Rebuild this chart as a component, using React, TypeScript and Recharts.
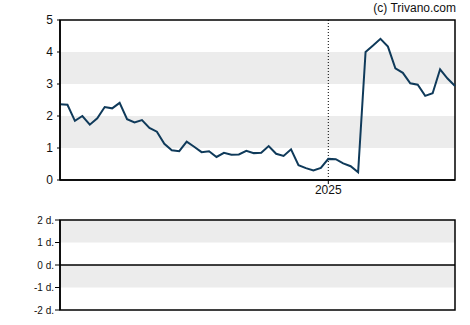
import React from "react";
import { LineChart, Line, XAxis, YAxis, ReferenceArea, ReferenceLine } from "recharts";

const dates = [
  "2024-04-26","2024-05-03","2024-05-10","2024-05-17","2024-05-24","2024-05-31",
  "2024-06-07","2024-06-14","2024-06-21","2024-06-28","2024-07-05","2024-07-12",
  "2024-07-19","2024-07-26","2024-08-02","2024-08-09","2024-08-16","2024-08-23",
  "2024-08-30","2024-09-06","2024-09-13","2024-09-20","2024-09-27","2024-10-04",
  "2024-10-11","2024-10-18","2024-10-25","2024-11-01","2024-11-08","2024-11-15",
  "2024-11-22","2024-11-29","2024-12-06","2024-12-13","2024-12-20","2024-12-27",
  "2025-01-03","2025-01-10","2025-01-17","2025-01-24","2025-01-31","2025-02-07",
  "2025-02-14","2025-02-21","2025-02-28","2025-03-07","2025-03-14","2025-03-21",
  "2025-03-28","2025-04-04","2025-04-11","2025-04-18","2025-04-25","2025-05-02",
];

const values = [
  2.37, 2.35, 1.85, 2.0, 1.73, 1.93, 2.28, 2.24, 2.41, 1.9, 1.8, 1.87,
  1.63, 1.51, 1.13, 0.93, 0.9, 1.2, 1.04, 0.87, 0.9, 0.72, 0.85, 0.79,
  0.8, 0.91, 0.84, 0.85, 1.06, 0.82, 0.75, 0.96, 0.46, 0.37, 0.3, 0.38,
  0.66, 0.65, 0.52, 0.43, 0.24, 4.0, 4.2, 4.41, 4.17, 3.49, 3.35, 3.02,
  2.98, 2.63, 2.71, 3.46, 3.17, 2.94,
];

const yearTick = "2025-01-03";
const yearLabel = "2025";
const priceTicks = [0, 1, 2, 3, 4, 5];
const lowerTicks = [-2, -1, 0, 1, 2];
const baseline = 0;
const copyright = "(c) Trivano.com";

const data = dates.map((d, i) => ({ date: d, value: values[i] }));
const lowerData = dates.map((d) => ({ date: d, base: baseline }));

const FONT = "Arial, 'Liberation Sans', sans-serif";
const BAND = "#ececec";

export default function App() {
  return (
    <div style={{ position: "absolute", left: 0, top: 0, width: 470, height: 325, background: "#fff", fontFamily: FONT }}>
      <div style={{ position: "absolute", left: 0, top: 0 }}>
        <LineChart width={470} height={200} data={data} margin={{ top: 20, right: 15, bottom: 0, left: 0 }}>
          <ReferenceArea y1={1} y2={2} fill={BAND} fillOpacity={1} stroke="none" ifOverflow="hidden" />
          <ReferenceArea y1={3} y2={4} fill={BAND} fillOpacity={1} stroke="none" ifOverflow="hidden" />
          <XAxis
            dataKey="date"
            ticks={[yearTick]}
            tickFormatter={() => yearLabel}
            interval={0}
            height={20}
            tickSize={4}
            tickMargin={1}
            axisLine={{ stroke: "#000", strokeWidth: 1.5 }}
            tickLine={{ stroke: "#000" }}
            tick={{ fill: "#111", fontSize: 12, fontFamily: FONT }}
          />
          <YAxis
            domain={[0, 5]}
            ticks={priceTicks}
            width={60}
            tickSize={3}
            tickMargin={4}
            axisLine={{ stroke: "#000", strokeWidth: 1.5 }}
            tickLine={{ stroke: "#000" }}
            tick={{ fill: "#111", fontSize: 12, fontFamily: FONT }}
            allowDataOverflow
          />
          <ReferenceLine x={yearTick} stroke="#000" strokeDasharray="1 2" strokeWidth={1} />
          <ReferenceArea y1={0} y2={5} fill="none" stroke="#000" strokeWidth={1.5} />
          <Line
            type="linear"
            dataKey="value"
            stroke="#0f3a5a"
            strokeWidth={2}
            dot={false}
            isAnimationActive={false}
          />
        </LineChart>
      </div>
      <div style={{ position: "absolute", right: 14, top: 1, fontSize: 12, color: "#111", fontFamily: FONT }}>
        {copyright}
      </div>
      <div style={{ position: "absolute", left: 0, top: 200 }}>
        <LineChart width={470} height={125} data={lowerData} margin={{ top: 20, right: 15, bottom: 15, left: 0 }}>
          <ReferenceArea y1={1} y2={2} fill={BAND} fillOpacity={1} stroke="none" />
          <ReferenceArea y1={-1} y2={0} fill={BAND} fillOpacity={1} stroke="none" />
          <XAxis dataKey="date" hide />
          <YAxis
            type="number"
            domain={[-2, 2]}
            ticks={lowerTicks}
            width={60}
            tickSize={5}
            tickMargin={1}
            tickFormatter={(v: number) => `${v} d.`}
            axisLine={{ stroke: "#000", strokeWidth: 1.5 }}
            tickLine={{ stroke: "#000" }}
            tick={{ fill: "#111", fontSize: 10, fontFamily: FONT }}
            allowDataOverflow
          />
          <ReferenceArea y1={-2} y2={2} fill="none" stroke="#000" strokeWidth={1.5} />
          <Line
            type="linear"
            dataKey="base"
            stroke="#000"
            strokeWidth={1.5}
            dot={false}
            isAnimationActive={false}
          />
        </LineChart>
      </div>
    </div>
  );
}
